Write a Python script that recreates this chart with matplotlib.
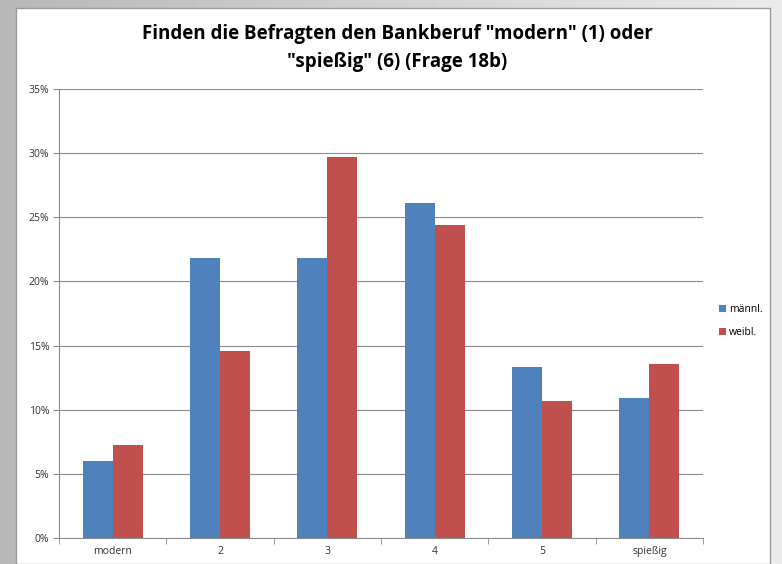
import matplotlib
matplotlib.use("Agg")
import matplotlib.pyplot as plt
import numpy as np
from matplotlib.patches import Rectangle
from matplotlib.ticker import PercentFormatter

categories = ["modern", "2", "3", "4", "5", "spießig"]
maennl = [6.0, 21.8, 21.8, 26.1, 13.3, 10.9]
weibl = [7.25, 14.6, 29.7, 24.4, 10.7, 13.6]
series_names = ["männl.", "weibl."]
title = 'Finden die Befragten den Bankberuf "modern" (1) oder\n"spießig" (6) (Frage 18b)'

plt.rcParams['font.family'] = ['Open Sans', 'DejaVu Sans']

fig = plt.figure(figsize=(7.82, 5.64), dpi=100)
fig.patch.set_facecolor('#c4c4c4')

# gradient background
bg = fig.add_axes([0, 0, 1, 1], zorder=-10)
grad = np.linspace(0.72, 0.92, 256).reshape(1, -1)
bg.imshow(grad, cmap='gray', vmin=0, vmax=1, aspect='auto', extent=[0, 1, 0, 1])
bg.add_patch(Rectangle((16/782, 0), (770-16)/782, (556)/564, facecolor='white',
                       edgecolor='#9a9a9a', linewidth=1))
bg.set_xlim(0, 1); bg.set_ylim(0, 1)
bg.axis('off')

ax = fig.add_axes([59/782, 26/564, (703-59)/782, (538-89)/564])
x = np.arange(len(categories))
w = 0.28
ax.bar(x - w/2, maennl, width=w, color='#4f81bd', label=series_names[0], zorder=3)
ax.bar(x + w/2, weibl, width=w, color='#c0504d', label=series_names[1], zorder=3)

ax.set_xlim(-0.5, len(categories) - 0.5)
ax.set_ylim(0, 35)
ax.set_yticks(np.arange(0, 36, 5))
ax.yaxis.set_major_formatter(PercentFormatter(decimals=0))
ax.set_xticks(x)
ax.set_xticklabels(categories)
ax.set_xticks(np.arange(-0.5, len(categories), 1), minor=True)
ax.tick_params(axis='x', which='major', length=0, labelsize=7.5, pad=6, labelcolor='#333333')
ax.tick_params(axis='x', which='minor', length=4, color='#8c8c8c')
ax.tick_params(axis='y', length=4, color='#8c8c8c', labelsize=7.5, pad=3, labelcolor='#333333')
ax.grid(axis='y', color='#8c8c8c', linewidth=0.8, zorder=0)
for s in ['top', 'right']:
    ax.spines[s].set_visible(False)
for s in ['left', 'bottom']:
    ax.spines[s].set_color('#8c8c8c')

fig.text(397/782, 1 - 48/564, title, ha='center', va='center', fontsize=13.5,
         fontweight='bold', linespacing=1.6)

ax.legend(loc='center left', bbox_to_anchor=(1.01, 0.483), frameon=False,
          fontsize=7.5, handlelength=0.7, handleheight=0.7, handletextpad=0.3,
          labelspacing=1.2)

fig.savefig('out.png', dpi=100)
